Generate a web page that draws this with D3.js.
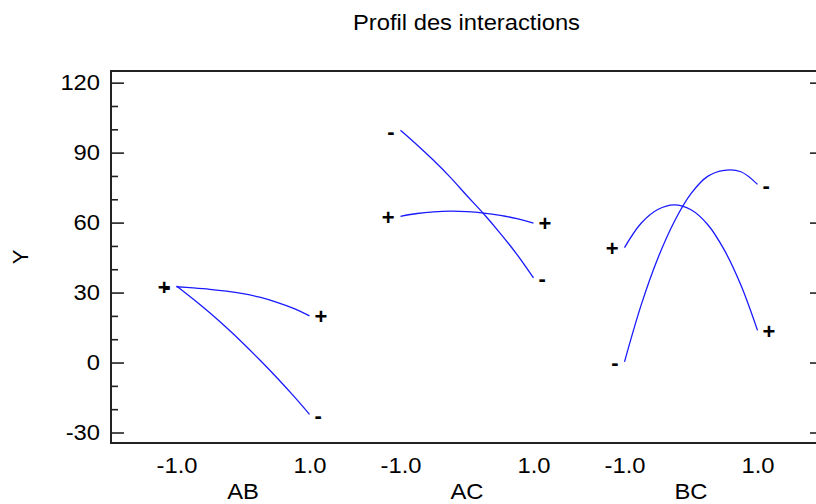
<!DOCTYPE html>
<html>
<head>
<meta charset="utf-8">
<script src="https://cdn.jsdelivr.net/npm/d3@7"></script>
<style>
  html, body { margin: 0; padding: 0; background: #fff; }
  svg { display: block; }
  text { font-family: "Liberation Sans", Arial, sans-serif; fill: #000; }
</style>
</head>
<body>
<svg id="chart" width="816" height="504"></svg>
<script>
// ---- data ----
const title = "Profil des interactions";
const yLabel = "Y";
const factors = ["AB", "AC", "BC"];
const xLevels = [-1, -0.75, -0.5, -0.25, 0, 0.25, 0.5, 0.75, 1];
const xTickValues = [-1, 1];
const xTickLabels = ["-1.0", "1.0"];
const yTicks = [-30, 0, 30, 60, 90, 120];
const yMinorTicks = [-20, -10, 10, 20, 40, 50, 70, 80, 100, 110];

const abPlus  = [32.5, 32.0, 31.4, 30.6, 29.5, 28.0, 25.9, 23.3, 20.0];
const abMinus = [32.8, 27.2, 21.3, 15.0, 8.3, 1.2, -6.2, -14.0, -22.2];
const acPlus  = [62.7, 63.9, 64.6, 64.9, 64.7, 64.1, 63.1, 61.7, 59.8];
const acMinus = [99.6, 93.3, 86.6, 79.4, 71.5, 63.8, 55.4, 46.4, 36.3];
const bcPlus  = [49.3, 59.7, 65.6, 67.6, 65.5, 59.2, 48.3, 33.2, 13.8];
const bcMinus = [0.3, 24.6, 44.6, 60.5, 72.4, 79.8, 82.4, 81.8, 76.4];

const seriesByFactor = {
  AB: [{ sign: "+", values: abPlus }, { sign: "-", values: abMinus }],
  AC: [{ sign: "+", values: acPlus }, { sign: "-", values: acMinus }],
  BC: [{ sign: "+", values: bcPlus }, { sign: "-", values: bcMinus }]
};

// ---- layout ----
const svg = d3.select("#chart");
const plot = { left: 111, right: 823, top: 71, bottom: 443 };
const FONT = 22;
const SX = 1.08; // horizontal stretch of the lettering

// stretch a text horizontally around its own anchor
function stretch(sel) {
  sel.each(function () {
    const t = d3.select(this);
    const x = +t.attr("x") || 0;
    const yv = +t.attr("y") || 0;
    t.attr("x", 0).attr("y", 0)
      .attr("transform", `translate(${x},${yv}) scale(${SX},1)`);
  });
}

const y = d3.scaleLinear().domain([-34.5, 125]).range([plot.bottom, plot.top]);
const panel = d3.scalePoint().domain(factors).range([243, 691]);
const halfW = 66.5;
const xFor = f => d3.scaleLinear().domain([-1, 1]).range([panel(f) - halfW, panel(f) + halfW]);

// title
svg.append("text")
  .attr("x", 466.5).attr("y", 29.5)
  .attr("text-anchor", "middle").style("font-size", FONT + "px")
  .text(title).call(stretch);

// y label
svg.append("text")
  .attr("transform", `translate(28,${(plot.top + plot.bottom) / 2}) rotate(-90)`)
  .attr("text-anchor", "middle").style("font-size", FONT + "px")
  .text(yLabel);

// frame
svg.append("rect")
  .attr("x", plot.left).attr("y", plot.top)
  .attr("width", plot.right - plot.left).attr("height", plot.bottom - plot.top)
  .attr("fill", "none").attr("stroke", "#222").attr("stroke-width", 2);

// left axis
const leftAxis = d3.axisLeft(y).tickValues(yTicks).tickSize(-13).tickPadding(11).tickFormat(d => String(d));
const gL = svg.append("g").attr("transform", `translate(${plot.left},0)`).call(leftAxis);
gL.select(".domain").remove();
gL.selectAll("line").attr("stroke", "#222").attr("stroke-width", 1.6);
gL.selectAll("text")
  .style("font-size", FONT + "px").style("font-family", "'Liberation Sans', Arial, sans-serif")
  .each(function () {
    const t = d3.select(this);
    const x = +t.attr("x");
    t.attr("x", 0).attr("transform", `translate(${x},0) scale(${SX},1)`);
  });

const leftMinor = d3.axisLeft(y).tickValues(yMinorTicks).tickSize(-7).tickFormat("");
const gLm = svg.append("g").attr("transform", `translate(${plot.left},0)`).call(leftMinor);
gLm.select(".domain").remove();
gLm.selectAll("line").attr("stroke", "#222").attr("stroke-width", 1.6);

// right axis
const rightAxis = d3.axisRight(y).tickValues(yTicks).tickSize(-13).tickFormat("");
const gR = svg.append("g").attr("transform", `translate(${plot.right},0)`).call(rightAxis);
gR.select(".domain").remove();
gR.selectAll("line").attr("stroke", "#222").attr("stroke-width", 1.6);
const rightMinor = d3.axisRight(y).tickValues(yMinorTicks).tickSize(-7).tickFormat("");
const gRm = svg.append("g").attr("transform", `translate(${plot.right},0)`).call(rightMinor);
gRm.select(".domain").remove();
gRm.selectAll("line").attr("stroke", "#222").attr("stroke-width", 1.6);

// panels
factors.forEach(f => {
  const x = xFor(f);
  const ax = d3.axisBottom(x).tickValues(xTickValues).tickSize(0).tickPadding(14)
    .tickFormat((d, i) => xTickLabels[i]);
  const g = svg.append("g").attr("transform", `translate(0,${plot.bottom})`).call(ax);
  g.select(".domain").remove();
  g.selectAll("text")
    .style("font-size", FONT + "px").style("font-family", "'Liberation Sans', Arial, sans-serif")
    .call(stretch);

  svg.append("text")
    .attr("x", panel(f)).attr("y", 498.5)
    .attr("text-anchor", "middle").style("font-size", FONT + "px")
    .text(f).call(stretch);

  const line = d3.line().x((d, i) => x(xLevels[i])).y(d => y(d)).curve(d3.curveCatmullRom);
  seriesByFactor[f].forEach(s => {
    svg.append("path").datum(s.values)
      .attr("d", line).attr("fill", "none")
      .attr("stroke", "#1a1aff").attr("stroke-width", 1.3);
    const n = s.values.length;
    svg.append("text")
      .attr("x", x(xLevels[0]) - 6).attr("y", y(s.values[0])).attr("dy", "0.38em")
      .attr("text-anchor", "end").style("font-size", FONT + "px").style("font-weight", "bold")
      .text(s.sign);
    svg.append("text")
      .attr("x", x(xLevels[n - 1]) + 5).attr("y", y(s.values[n - 1])).attr("dy", "0.38em")
      .attr("text-anchor", "start").style("font-size", FONT + "px").style("font-weight", "bold")
      .text(s.sign);
  });
});
</script>
</body>
</html>
